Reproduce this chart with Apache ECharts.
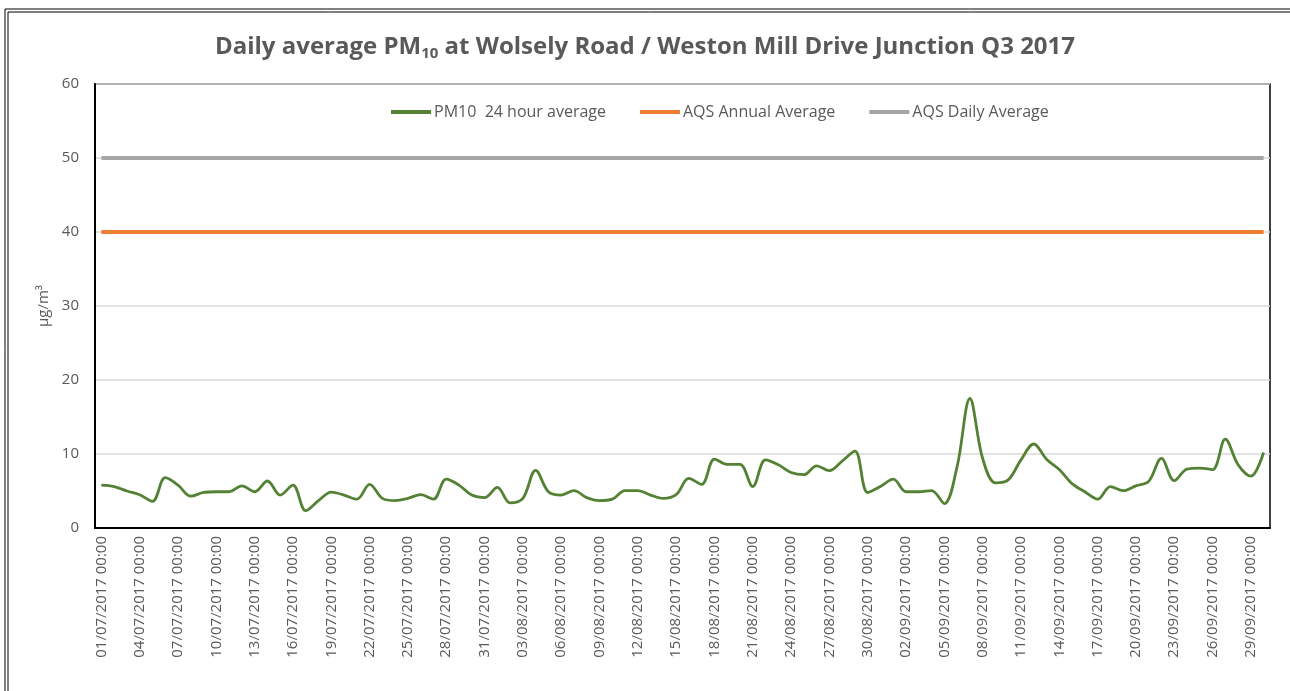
<!DOCTYPE html>
<html>
<head>
<meta charset="utf-8">
<script src="https://cdn.jsdelivr.net/npm/echarts@6/dist/echarts.min.js"></script>
<style>
  html, body { margin: 0; padding: 0; background: #fff; }
  #chart { width: 1290px; height: 691px; }
</style>
</head>
<body>
<div id="chart"></div>
<script>
// PM10 24 hour average, 01/07/2017 .. 30/09/2017
let pm10 = [
    5.8, 5.6, 5.0, 4.5, 3.6, 6.8, 5.8, 4.3, 4.8, 4.9,
    4.9, 5.7, 4.9, 6.35, 4.45, 5.8, 2.35, 3.7, 4.86, 4.45,
    3.9, 5.9, 4.0, 3.7, 4.0, 4.5, 3.9, 6.6, 5.8, 4.45,
    4.1, 5.5, 3.4, 4.0, 7.8, 4.9, 4.45, 5.05, 4.1, 3.7,
    3.9, 5.05, 5.05, 4.45, 4.0, 4.5, 6.7, 5.9, 9.3, 8.6,
    8.6, 5.6, 9.2, 8.55, 7.5, 7.2, 8.4, 7.75, 9.05, 10.4,
    4.8, 5.6, 6.6, 4.9, 4.9, 5.05, 3.3, 8.3, 17.5, 9.4,
    6.1, 6.5, 9.2, 11.35, 9.3, 7.9, 6.0, 4.9, 3.9, 5.6,
    5.05, 5.7, 6.3, 9.4, 6.4, 7.95, 8.1, 7.9, 12.0, 8.55,
    7.0, 10.2
];
let annualAvg = 40; // AQS Annual Average
let dailyAvg = 50;  // AQS Daily Average
let yTicks = { min: 0, max: 60, interval: 10 };

// dates dd/mm/yyyy 00:00
let dates = [];
let d = new Date(2017, 6, 1);
for (let i = 0; i < pm10.length; i++) {
    let dd = ('0' + d.getDate()).slice(-2);
    let mm = ('0' + (d.getMonth() + 1)).slice(-2);
    dates.push(dd + '/' + mm + '/' + d.getFullYear() + ' 00:00');
    d.setDate(d.getDate() + 1);
}
let annualLine = pm10.map(() => annualAvg);
let dailyLine = pm10.map(() => dailyAvg);

let grey = '#595959';
let font = 'Open Sans';

let option = {
    backgroundColor: '#fff',
    animation: false,
    title: {
        text: 'Daily average PM{sub|10} at Wolsely Road / Weston Mill Drive Junction Q3 2017',
        left: 'center',
        top: 29,
        textStyle: {
            fontFamily: font,
            fontSize: 24,
            fontWeight: 'bold',
            color: grey,
            rich: {
                sub: { fontFamily: font, fontSize: 15, fontWeight: 'bold', color: grey, verticalAlign: 'bottom', padding: [12, 0, 0, 0] }
            }
        }
    },
    legend: {
        top: 99,
        left: 386,
        icon: 'rect',
        itemWidth: 40,
        itemHeight: 4,
        itemGap: 34,
        textStyle: { fontFamily: font, fontSize: 16, color: grey, padding: [0, 0, 0, -2] },
        data: ['PM10  24 hour average', 'AQS Annual Average', 'AQS Daily Average']
    },
    grid: {
        left: 95, right: 20, top: 84, bottom: 163,
        show: true, borderColor: '#000', borderWidth: 1.5
    },
    graphic: [
        { type: 'rect', shape: { x: 5, y: 9, width: 1400, height: 800 }, style: { fill: null, stroke: '#000', lineWidth: 1 }, silent: true },
        { type: 'rect', shape: { x: 8, y: 12, width: 1400, height: 800 }, style: { fill: null, stroke: '#000', lineWidth: 1 }, silent: true }
    ],
    xAxis: {
        type: 'category',
        data: dates,
        boundaryGap: true,
        axisLine: { lineStyle: { color: '#000', width: 2 } },
        axisTick: { interval: 2, length: 6, lineStyle: { color: '#000', width: 1.5 } },
        axisLabel: { interval: 2, rotate: 90, fontFamily: font, fontSize: 15, color: grey, margin: 8 },
        splitLine: { show: false }
    },
    yAxis: {
        type: 'value',
        min: yTicks.min, max: yTicks.max, interval: yTicks.interval,
        name: 'µg/m³',
        nameLocation: 'middle',
        nameGap: 40,
        nameTextStyle: { fontFamily: font, fontSize: 15, color: grey },
        axisLine: { show: true, lineStyle: { color: '#000', width: 2 } },
        axisTick: { show: false },
        axisLabel: { fontFamily: font, fontSize: 15, color: grey, margin: 16 },
        splitLine: { lineStyle: { color: '#d9d9d9', width: 1.5 } }
    },
    series: [
        {
            name: 'PM10  24 hour average',
            type: 'line',
            data: pm10,
            smooth: 0.35,
            showSymbol: false,
            symbol: 'none',
            z: 3,
            lineStyle: { color: '#548235', width: 2.8 },
            itemStyle: { color: '#548235' }
        },
        {
            name: 'AQS Annual Average',
            type: 'line',
            data: annualLine,
            showSymbol: false,
            symbol: 'none',
            lineStyle: { color: '#ED7D31', width: 4 },
            itemStyle: { color: '#ED7D31' }
        },
        {
            name: 'AQS Daily Average',
            type: 'line',
            data: dailyLine,
            showSymbol: false,
            symbol: 'none',
            lineStyle: { color: '#A5A5A5', width: 4 },
            itemStyle: { color: '#A5A5A5' }
        }
    ]
};

let chart = echarts.init(document.getElementById('chart'), null, { renderer: 'canvas' });
chart.setOption(option);
</script>
</body>
</html>
